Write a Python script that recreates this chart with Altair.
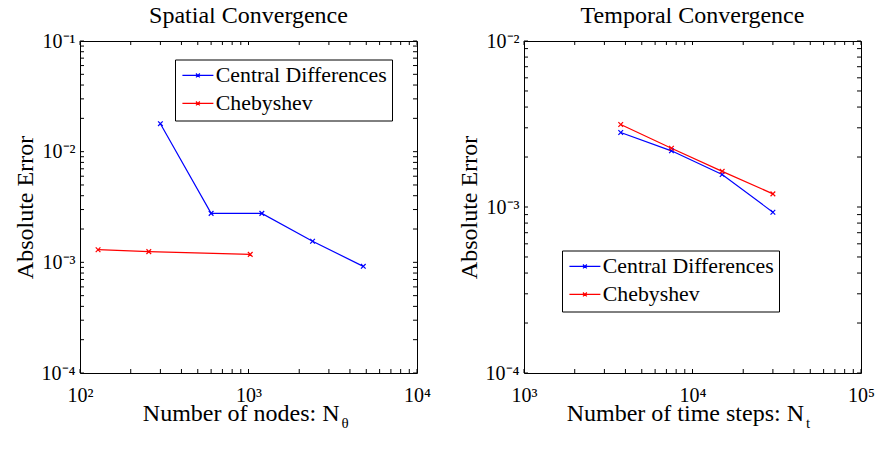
import altair as alt
import pandas as pd

# ---------------- data ----------------
series = ["Central Differences", "Chebyshev"]
series_colors = ["#0000ff", "#ff0000"]

# Spatial convergence
sp_cd_x = [300, 600, 1200, 2400, 4800]
sp_cd_y = [0.0179, 0.00277, 0.00277, 0.00155, 0.00092]
sp_ch_x = [128, 256, 1024]
sp_ch_y = [0.00130, 0.00125, 0.00118]

# Temporal convergence
tm_x = [3750, 7500, 15000, 30000]
tm_cd_y = [0.00281, 0.00218, 0.00157, 0.00093]
tm_ch_y = [0.00314, 0.00226, 0.00164, 0.00120]

panel_titles = ["Spatial Convergence", "Temporal Convergence"]
y_title = "Absolute Error"
x_title_main = ["Number of nodes: N", "Number of time steps: N"]
x_title_sub = ["\u03b8", "t"]

sp_x_decades = [2, 3, 4]
sp_y_decades = [-4, -3, -2, -1]
tm_x_decades = [3, 4, 5]
tm_y_decades = [-4, -3, -2]

FONT = "Liberation Serif, Times New Roman, Times, serif"
W, H = 337, 332
TICK = 4
BIG = 24

SUP = {"-": "\u207b", "0": "\u2070", "1": "\u00b9", "2": "\u00b2", "3": "\u00b3",
       "4": "\u2074", "5": "\u2075", "6": "\u2076", "7": "\u2077", "8": "\u2078", "9": "\u2079"}


def sup_label(d):
    return "10" + "".join(SUP[c] for c in str(d))


def label_expr(decades):
    expr = "'" + sup_label(decades[-1]) + "'"
    for d in reversed(decades[:-1]):
        thr = 10 ** (d + 0.5)
        expr = "datum.value < %r ? '%s' : (%s)" % (thr, sup_label(d), expr)
    return expr


def tick_values(decades):
    major = [10.0 ** d for d in decades]
    minor = [k * 10.0 ** d for d in decades[:-1] for k in range(2, 10)]
    return major + minor


def text_layer(txt, x, y, size, align):
    return alt.Chart(pd.DataFrame({"t": [txt]})).mark_text(
        align=align, baseline="alphabetic", font=FONT, fontSize=size, color="black").encode(
        text="t:N", x=alt.value(x), y=alt.value(y))


def panel(xs_list, ys_list, xdec, ydec, title, main, sub, leg_xy, main_dx):
    rows = []
    for name, xs, ys in zip(series, xs_list, ys_list):
        for xv, yv in zip(xs, ys):
            rows.append({"series": name, "x": xv, "y": yv})
    df = pd.DataFrame(rows)

    xscale = alt.Scale(type="log", domain=[10.0 ** xdec[0], 10.0 ** xdec[-1]], nice=False)
    yscale = alt.Scale(type="log", domain=[10.0 ** ydec[0], 10.0 ** ydec[-1]], nice=False)

    legend = alt.Legend(
        orient="none", legendX=leg_xy[0], legendY=leg_xy[1], title=None,
        strokeColor="black", fillColor="white", padding=5,
        labelFont=FONT, labelFontSize=21.8, labelColor="black", labelLimit=0,
        symbolType="M-2,0L2,0M-0.25,-0.25L0.25,0.25M-0.25,0.25L0.25,-0.25",
        symbolSize=240, symbolStrokeWidth=1.2, symbolOffset=7, labelOffset=7,
        rowPadding=5, symbolFillColor="transparent",
    )
    color = alt.Color("series:N", scale=alt.Scale(domain=series, range=series_colors), legend=legend)

    xaxis = alt.Axis(values=[10.0 ** d for d in xdec], labelExpr=label_expr(xdec), title=None,
                     ticks=False, domain=False, grid=False, labelFont=FONT, labelFontSize=20,
                     labelColor="black", labelPadding=12, labelFlush=False, labelOverlap=False,
                     labelBound=False)
    yaxis = alt.Axis(values=[10.0 ** d for d in ydec], labelExpr=label_expr(ydec), title=y_title,
                     ticks=False, domain=False, grid=False, labelFont=FONT, labelFontSize=20,
                     labelColor="black", labelPadding=5, labelFlush=False, labelOverlap=False,
                     titleFont=FONT, titleFontSize=BIG, titleFontWeight="normal", titleColor="black",
                     titlePadding=4)

    base = alt.Chart(df)
    lines = base.mark_line(strokeWidth=1.2).encode(
        x=alt.X("x:Q", scale=xscale, axis=xaxis),
        y=alt.Y("y:Q", scale=yscale, axis=yaxis),
        color=color,
        detail="series:N",
    )
    pts = base.mark_point(shape="M-1,-1L1,1M-1,1L1,-1", size=22, filled=False, strokeWidth=1.2,
                          opacity=1).encode(
        x=alt.X("x:Q", scale=xscale),
        y=alt.Y("y:Q", scale=yscale),
        color=alt.Color("series:N", scale=alt.Scale(domain=series, range=series_colors), legend=None),
    )

    xt = pd.DataFrame({"v": tick_values(xdec)})
    yt = pd.DataFrame({"v": tick_values(ydec)})
    xb = alt.Chart(xt).mark_rule(color="black", strokeWidth=1).encode(
        x=alt.X("v:Q", scale=xscale), y=alt.value(H), y2=alt.value(H - TICK))
    xtop = alt.Chart(xt).mark_rule(color="black", strokeWidth=1).encode(
        x=alt.X("v:Q", scale=xscale), y=alt.value(0), y2=alt.value(TICK))
    yl = alt.Chart(yt).mark_rule(color="black", strokeWidth=1).encode(
        y=alt.Y("v:Q", scale=yscale), x=alt.value(0), x2=alt.value(TICK))
    yr = alt.Chart(yt).mark_rule(color="black", strokeWidth=1).encode(
        y=alt.Y("v:Q", scale=yscale), x=alt.value(W), x2=alt.value(W - TICK))

    t_title = text_layer(title, W / 2, -18, BIG, "center")
    t_main = text_layer(main, W / 2 + main_dx, H + 48, BIG, "right")
    t_sub = text_layer(sub, W / 2 + main_dx + 2, H + 55, 15, "left")

    return alt.layer(lines, pts, xb, xtop, yl, yr, t_title, t_main, t_sub).properties(
        width=W, height=H)


left = panel([sp_cd_x, sp_ch_x], [sp_cd_y, sp_ch_y], sp_x_decades, sp_y_decades,
             panel_titles[0], x_title_main[0], x_title_sub[0], (95, 18.5), 91)
right = panel([tm_x, tm_x], [tm_cd_y, tm_ch_y], tm_x_decades, tm_y_decades,
              panel_titles[1], x_title_main[1], x_title_sub[1], (38, 209.5), 111.5)

chart = alt.hconcat(left, right, spacing=25).resolve_scale(
    color="independent", x="independent", y="independent"
).resolve_legend(color="independent").configure_view(
    stroke="black", strokeWidth=1
).properties(padding={"left": 4, "top": -5, "right": 0, "bottom": -3}, background="white")

chart.save("out.html", embed_options={"renderer": "svg", "actions": False})
